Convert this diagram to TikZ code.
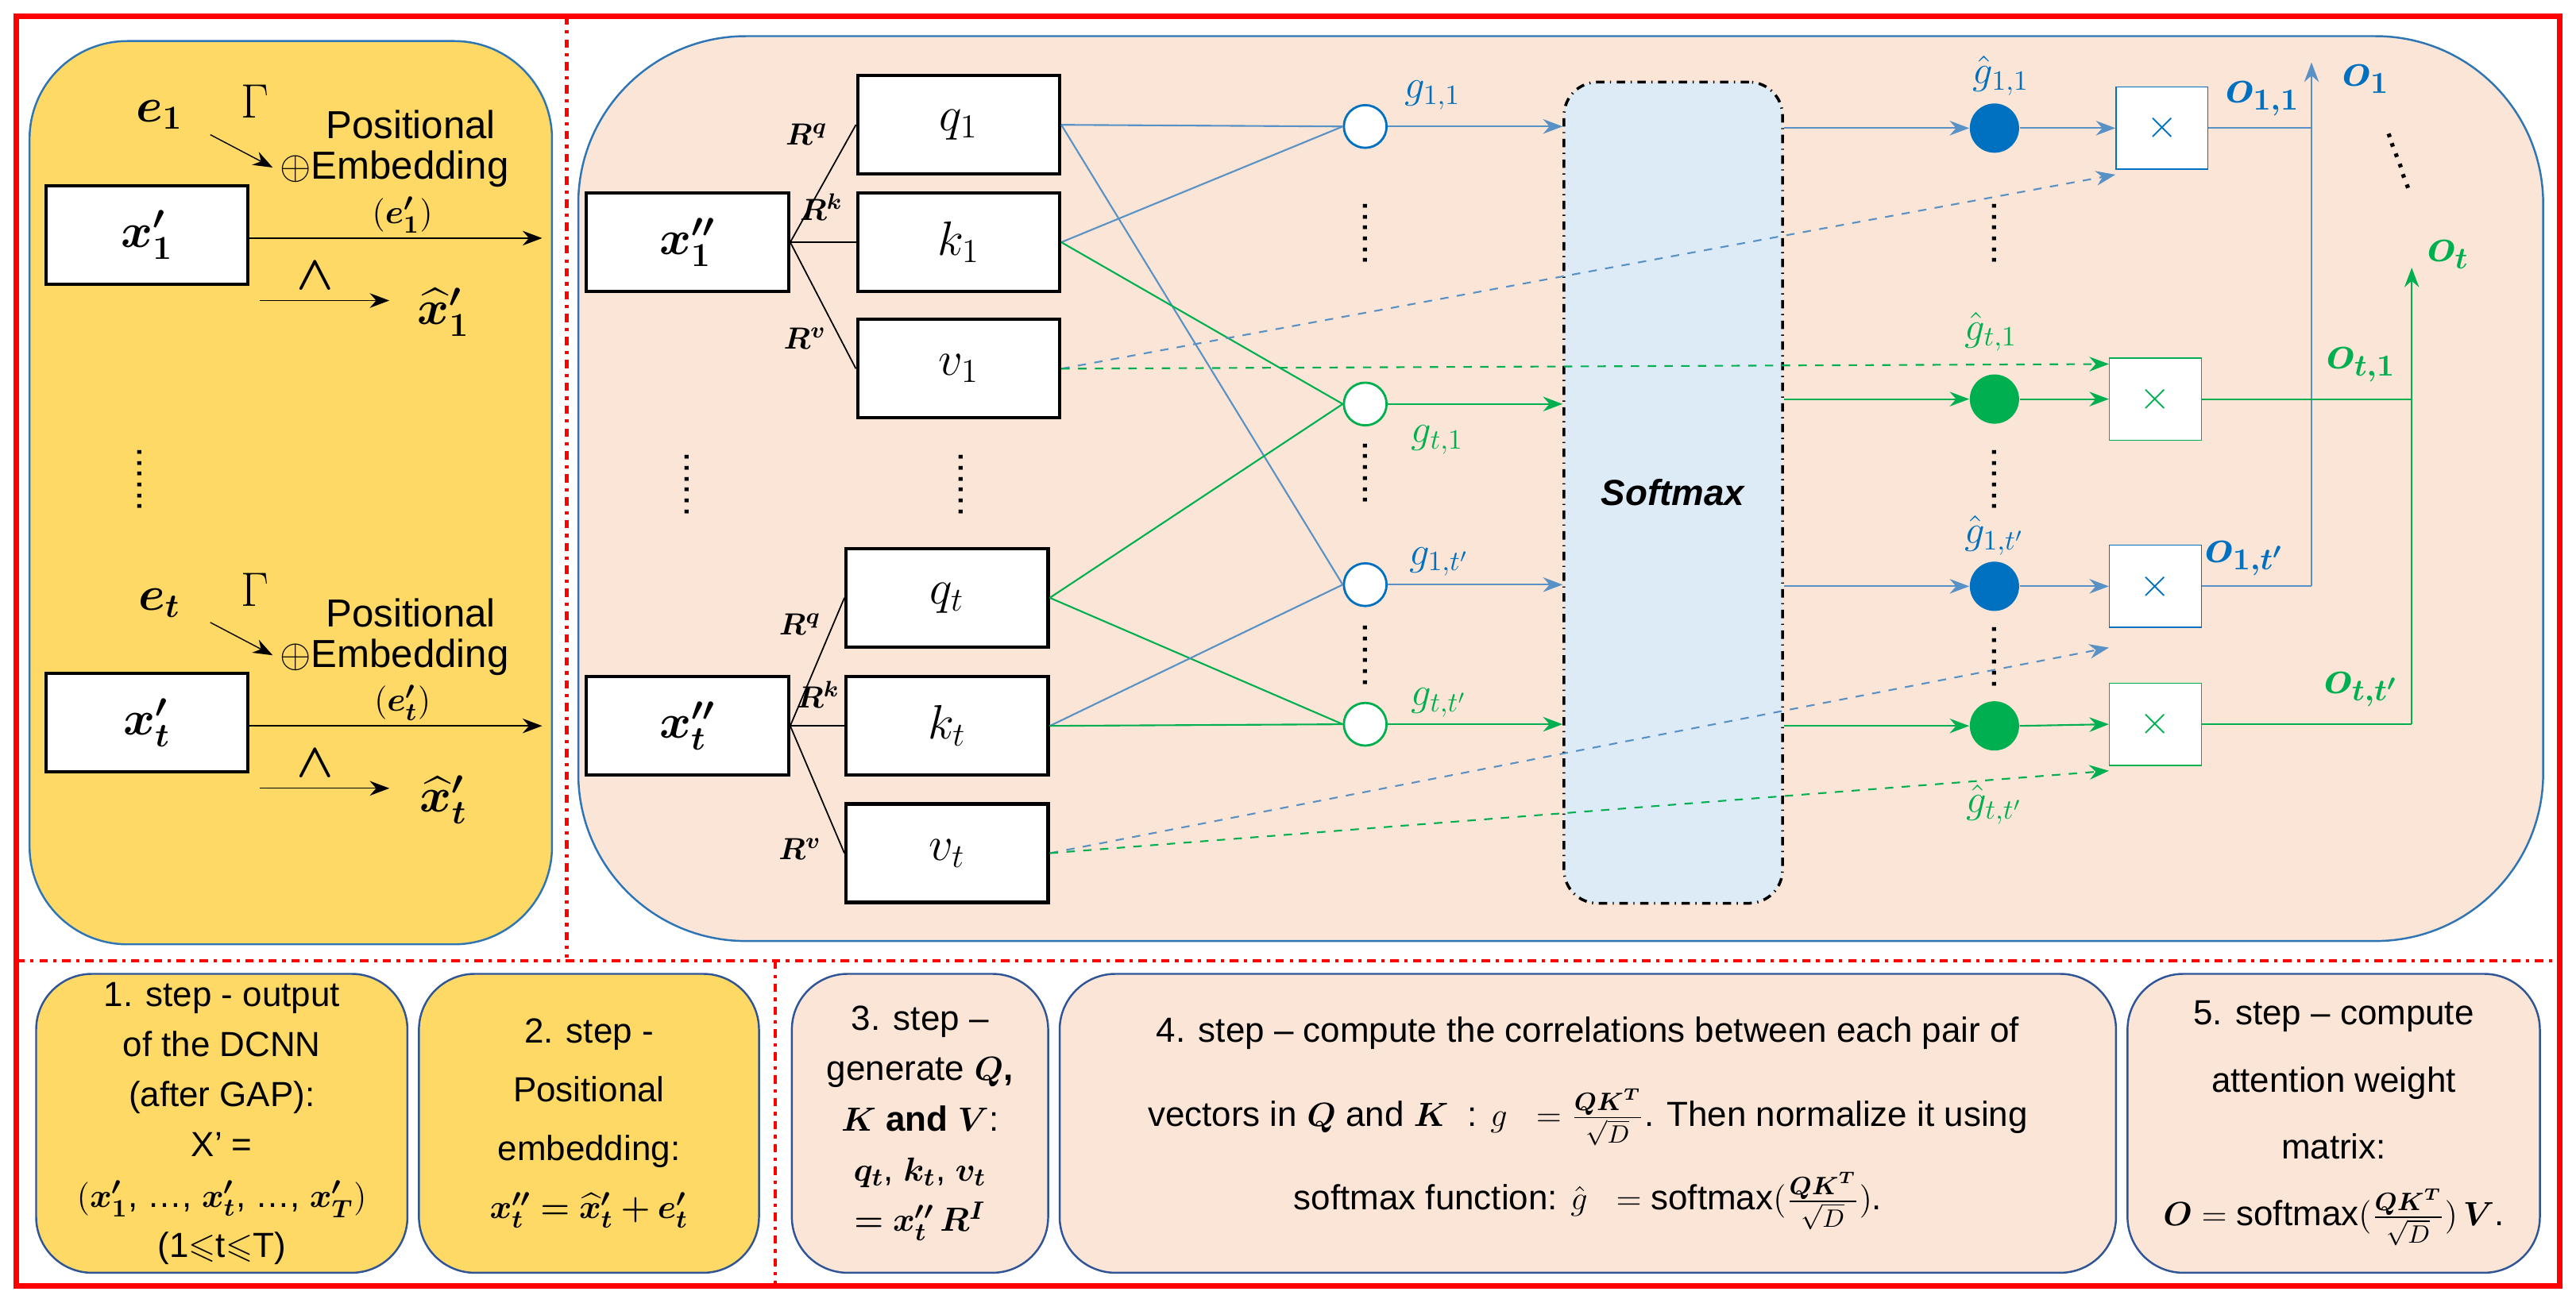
\documentclass[tikz,border=0pt]{standalone}
\usepackage{amsmath,bm,amssymb}
\usepackage{fontspec}
\setmainfont{Liberation Sans}
\usetikzlibrary{arrows.meta}
\definecolor{yel}{RGB}{255,217,102}
\definecolor{peach}{RGB}{251,229,214}
\definecolor{bblue}{RGB}{46,117,182}
\definecolor{lblue}{RGB}{221,235,247}
\definecolor{ggreen}{RGB}{0,176,80}
\definecolor{nblue}{RGB}{0,112,192}
\definecolor{frame}{RGB}{47,85,151}
\begin{document}
\begin{tikzpicture}[x=0.2068mm,y=-0.2068mm,
  every node/.style={font=\fontsize{13}{16}\selectfont},
  box/.style={draw=black,line width=1.2pt,fill=white,minimum width=123*0.2068mm,minimum height=60*0.2068mm,inner sep=0pt,font=\fontsize{17}{20}\selectfont},
  xbox/.style={draw=#1,fill=white,minimum width=56*0.2068mm,minimum height=50*0.2068mm,inner sep=0pt,text=#1,font=\fontsize{14}{16}\selectfont},
  oc/.style={circle,draw=#1,fill=white,minimum size=26*0.2068mm,inner sep=0pt,line width=0.8pt},
  fc/.style={circle,fill=#1,minimum size=30*0.2068mm,inner sep=0pt},
  ar/.style={-{Stealth[length=7pt]},#1},
  bl/.style={bblue!80,line width=0.6pt},
  gl/.style={ggreen,line width=0.6pt},
  stepbox/.style={draw=frame,rounded corners=20,line width=0.7pt,align=center,inner sep=2pt,font=\fontsize{12.5}{19}\selectfont},
  vd/.style={font=\fontsize{14}{14}\selectfont,rotate=90},
  lab/.style={font=\fontsize{11}{12}\selectfont}]
\useasboundingbox (0,0) rectangle (1568,793);
% panels
\draw[draw=bblue,fill=yel,rounded corners=35,line width=0.7pt] (18,25) rectangle (336,575);
\draw[draw=bblue,fill=peach,rounded corners=60,line width=0.7pt] (352,22) rectangle (1548,573);
\draw[red,line width=2pt] (10,10) rectangle (1558,783);
\draw[red,line width=1.2pt,dash dot] (345,10) -- (345,583);
\draw[red,line width=1.2pt,dash dot] (10,585) -- (1558,585);
\draw[red,line width=1.2pt,dash dot] (472,585) -- (472,783);
% left panel
\foreach \y/\s in {0/1,297/t}{
 \begin{scope}[yshift=-\y*0.2068mm]
 \node (e\s) at (97,70) {\fontsize{18}{20}\selectfont$\bm{e_{\s}}$};
 \node (G\s) at (155,62) {\fontsize{16}{18}\selectfont$\Gamma$};
 \coordinate (ea\s) at (128,82); \coordinate (eb\s) at (166,102);
 \draw[ar=black] (ea\s) -- (eb\s);
 \node (P\s) at (250,76) {\fontsize{14}{16}\selectfont Positional};
 \node (E\s) at (240,103) {\fontsize{14}{16}\selectfont $\oplus$Embedding};
 \node (pe\s) at (245,131) {$(\bm{e'_{\s}})$};
 \node[box] (x\s) at (89.5,143) {$\bm{x'_{\s}}$};
 \coordinate (xe\s) at (330,145);
 \draw[ar=black] (x\s.east|-xe\s) -- (xe\s);
 \node (w\s) at (192,168) {\fontsize{18}{20}\selectfont$\bm{\wedge}$};
 \coordinate (ha\s) at (158,183); \coordinate (hb\s) at (237,183);
 \draw[ar=black] (ha\s) -- (hb\s);
 \node (xh\s) at (270,190) {\fontsize{17}{20}\selectfont$\bm{\widehat{x}'_{\s}}$};
 \end{scope}}
\node[vd] (dl) at (85,292) {......};
% right panel: inputs
\node[box] (xx1) at (418.5,147.5) {$\bm{x''_1}$};
\node[box] (xxt) at (418.5,442) {$\bm{x''_t}$};
\node[vd] (dx) at (418,295) {......};
\node[box] (q1) at (583.5,76) {$q_1$};
\node[box] (k1) at (583.5,147.5) {$k_1$};
\node[box] (v1) at (583.5,224.5) {$v_1$};
\node[box] (qt) at (576.5,364) {$q_t$};
\node[box] (kt) at (576.5,442) {$k_t$};
\node[box] (vt) at (576.5,519.5) {$v_t$};
\node[vd] (dq) at (585,295) {......};
\foreach \a in {q1,k1,v1}{\draw[black,line width=0.5pt] (xx1.east) -- (\a.west);}
\foreach \a in {qt,kt,vt}{\draw[black,line width=0.5pt] (xxt.east) -- (\a.west);}
\node[lab] (rq1) at (491,82) {$\bm{R^q}$};
\node[lab] (rk1) at (500,126) {$\bm{R^k}$};
\node[lab] (rv1) at (490,206) {$\bm{R^v}$};
\node[lab] (rqt) at (487,380) {$\bm{R^q}$};
\node[lab] (rkt) at (498,423) {$\bm{R^k}$};
\node[lab] (rvt) at (487,517) {$\bm{R^v}$};
% open circles
\node[oc=nblue] (c1) at (831,77) {};
\node[oc=ggreen] (c2) at (831,246) {};
\node[oc=nblue] (c3) at (831,356) {};
\node[oc=ggreen] (c4) at (831,441) {};
\node[vd] at (831,142) {......};
\node[vd] at (831,288) {......};
\node[vd] at (831,399) {......};
\draw[bl] (q1.east) -- (c1.west); \draw[bl] (q1.east) -- (c3.west);
\draw[bl] (k1.east) -- (c1.west); \draw[gl] (k1.east) -- (c2.west);
\draw[gl] (qt.east) -- (c2.west); \draw[gl] (qt.east) -- (c4.west);
\draw[bl] (kt.east) -- (c3.west); \draw[gl] (kt.east) -- (c4.west);
\node[text=nblue,font=\fontsize{14}{16}\selectfont] at (872,58) {$g_{1,1}$};
\node[text=ggreen,font=\fontsize{14}{16}\selectfont] at (875,268) {$g_{t,1}$};
\node[text=nblue,font=\fontsize{14}{16}\selectfont] at (876,342) {$g_{1,t'}$};
\node[text=ggreen,font=\fontsize{14}{16}\selectfont] at (876,428) {$g_{t,t'}$};
% softmax
\node[draw=black,dash dot,line width=1pt,fill=lblue,rounded corners=12,minimum width=133*0.2068mm,minimum height=500*0.2068mm] (sm) at (1018.5,300) {\fontsize{13}{16}\selectfont\textbf{\textit{Softmax}}};
\draw[ar=bl] (c1.east) -- (c1.east-|sm.west);
\draw[ar=gl] (c2.east) -- (c2.east-|sm.west);
\draw[ar=bl] (c3.east) -- (c3.east-|sm.west);
\draw[ar=gl] (c4.east) -- (c4.east-|sm.west);
% filled circles
\node[fc=nblue] (f1) at (1214,78) {};
\node[fc=ggreen] (f2) at (1214,243) {};
\node[fc=nblue] (f3) at (1214,357) {};
\node[fc=ggreen] (f4) at (1214,442) {};
\node[vd] at (1214,142) {......};
\node[vd] at (1214,292) {......};
\node[vd] at (1214,400) {......};
\draw[ar=bl] (f1.west-|sm.east) -- (f1.west);
\draw[ar=gl] (f2.west-|sm.east) -- (f2.west);
\draw[ar=bl] (f3.west-|sm.east) -- (f3.west);
\draw[ar=gl] (f4.west-|sm.east) -- (f4.west);
\node[text=nblue,font=\fontsize{14}{16}\selectfont] at (1218,46) {$\hat g_{1,1}$};
\node[text=ggreen,font=\fontsize{14}{16}\selectfont] at (1212,202) {$\hat g_{t,1}$};
\node[text=nblue,font=\fontsize{14}{16}\selectfont] at (1214,326) {$\hat g_{1,t'}$};
\node[text=ggreen,font=\fontsize{14}{16}\selectfont] at (1214,490) {$\hat g_{t,t'}$};
% x boxes
\node[xbox=nblue] (m1) at (1316,78) {$\times$};
\node[xbox=ggreen] (m2) at (1312,243) {$\times$};
\node[xbox=nblue] (m3) at (1312,357) {$\times$};
\node[xbox=ggreen] (m4) at (1312,441) {$\times$};
\draw[ar=bl] (f1.east) -- (m1.west);
\draw[ar=gl] (f2.east) -- (m2.west);
\draw[ar=bl] (f3.east) -- (m3.west);
\draw[ar=gl] (f4.east) -- (m4.west);
\draw[ar=bl,dashed] (v1.east) -- ([yshift=-3*0.2068mm]m1.south west);
\draw[ar=gl,dashed] (v1.east) -- ([yshift=-4*0.2068mm]m2.north west);
\draw[ar=bl,dashed] (vt.east) -- ([yshift=-12*0.2068mm]m3.south west);
\draw[ar=gl,dashed] (vt.east) -- ([yshift=-3*0.2068mm]m4.south west);
% outputs
\coordinate (ob) at (1407,357); \coordinate (oa) at (1407,38);
\coordinate (gb) at (1468,441); \coordinate (ga) at (1468,163);
\draw[bl] (m1.east) -- (m1.east-|ob); \draw[bl] (m3.east) -- (ob);
\draw[ar=bl] (ob) -- (oa);
\draw[gl] (m2.east) -- (m2.east-|gb); \draw[gl] (m4.east) -- (gb);
\draw[ar=gl] (gb) -- (ga);
\node[text=nblue,font=\fontsize{16}{18}\selectfont] at (1377,60) {$\bm{o_{1,1}}$};
\node[text=nblue,font=\fontsize{16}{18}\selectfont] at (1440,48) {$\bm{o_{1}}$};
\node[text=nblue,font=\fontsize{16}{18}\selectfont] at (1366,340) {$\bm{o_{1,t'}}$};
\node[text=ggreen,font=\fontsize{16}{18}\selectfont] at (1490,155) {$\bm{o_{t}}$};
\node[text=ggreen,font=\fontsize{16}{18}\selectfont] at (1437,222) {$\bm{o_{t,1}}$};
\node[text=ggreen,font=\fontsize{16}{18}\selectfont] at (1437,420) {$\bm{o_{t,t'}}$};
\node[font=\fontsize{14}{14}\selectfont,rotate=-70] at (1460,98) {......};
% bottom steps
\node[stepbox,fill=yel,minimum width=226*0.2068mm,minimum height=182*0.2068mm,font=\fontsize{12.5}{18}\selectfont] (s1) at (135,684) {1. step - output\\ of the DCNN\\ (after GAP):\\ X' =\\ $(\bm{x'_1}$, \dots, $\bm{x'_t}$, \dots, $\bm{x'_T})$\\ (1$\leqslant$t$\leqslant$T)};
\node[stepbox,fill=yel,minimum width=207*0.2068mm,minimum height=182*0.2068mm,font=\fontsize{12.5}{21}\selectfont] (s2) at (358.5,684) {2. step -\\ Positional\\ embedding:\\ $\bm{x''_t = \widehat{x}'_t + e'_t}$};
\node[stepbox,fill=peach,minimum width=156*0.2068mm,minimum height=182*0.2068mm,font=\fontsize{12.5}{18}\selectfont] (s3) at (560,684) {3. step –\\ generate $\bm{Q}$\textbf{,}\\ $\bm{K}$ \textbf{and} $\bm{V}$:\\ $\bm{q_t}$, $\bm{k_t}$, $\bm{v_t}$\\ $\bm{= x''_t\, R^I}$};
\node[stepbox,fill=peach,minimum width=643*0.2068mm,minimum height=182*0.2068mm,font=\fontsize{12.5}{30}\selectfont] (s4) at (966.5,684) {4. step – compute the correlations between each pair of\\ vectors in $\bm{Q}$ and $\bm{K}$ \ : $g\ \ =\frac{\bm{QK^T}}{\sqrt{D}}$. Then normalize it using\\ softmax function: $\hat g\ \ =\mathrm{softmax}(\frac{\bm{QK^T}}{\sqrt{D}})$.};
\node[stepbox,fill=peach,minimum width=251*0.2068mm,minimum height=182*0.2068mm,font=\fontsize{12.5}{24}\selectfont] (s5) at (1420.5,684) {5. step – compute\\ attention weight\\ matrix:\\ $\bm{O} = \mathrm{softmax}(\frac{\bm{QK^T}}{\sqrt{D}})\,\bm{V}$.};
\end{tikzpicture}
\end{document}
